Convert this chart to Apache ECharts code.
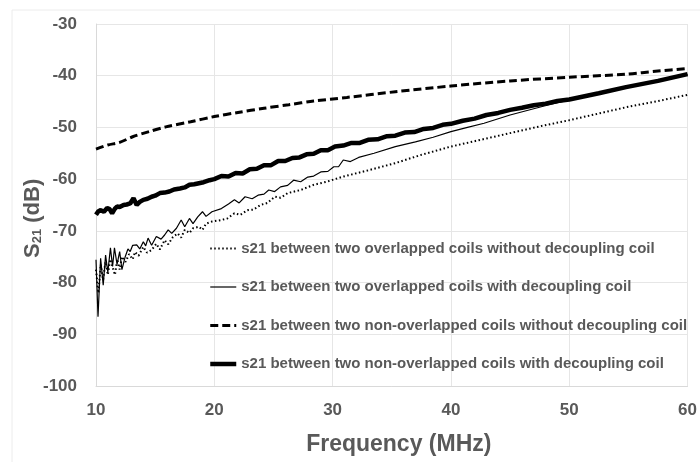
<!DOCTYPE html>
<html>
<head>
<meta charset="utf-8">
<script src="https://cdn.jsdelivr.net/npm/echarts@6/dist/echarts.min.js"></script>
<style>
  html, body { margin: 0; padding: 0; background: #fff; }
  #chart { width: 700px; height: 462px; }
</style>
</head>
<body>
<div id="chart"></div>
<script>
// x ticks / y ticks
const freqMin = 10, freqMax = 60, freqStep = 10
const dbMin = -100, dbMax = -30, dbStep = 10

const legendNames = [
  's21 between two overlapped coils without decoupling coil',
  's21 between two overlapped coils with decoupling coil',
  's21 between two non-overlapped coils without decoupling coil',
  's21 between two non-overlapped coils with decoupling coil'
]

// overlapped, no decoupling (dotted)
const freqOverlapNoDec = [10.0, 10.2, 10.4, 10.6, 10.8, 11.0, 11.2, 11.4, 11.6, 11.8, 12.0, 12.2, 12.5, 12.8, 13.1, 13.3, 13.6, 14.0, 14.3, 14.7, 15.1, 15.4, 15.8, 16.1, 16.5, 16.9, 17.2, 17.5, 17.9, 18.2, 18.7, 19.0, 19.3, 19.8, 20.6, 21.1, 21.7, 22.2, 22.8, 23.3, 23.9, 24.5, 25.1, 25.6, 26.2, 27.3, 28.4, 29.5, 30.9, 33.0, 35.3, 37.5, 40.0, 42.5, 45.0, 47.5, 50.0, 52.5, 54.8, 57.5, 60.0]
const s21OverlapNoDec = [-77.5, -82.0, -76.5, -79.5, -76.0, -78.5, -75.5, -77.0, -78.5, -75.5, -77.5, -75.0, -76.0, -74.5, -75.5, -74.1, -74.8, -73.1, -74.2, -73.7, -72.5, -73.6, -71.8, -72.6, -71.2, -70.5, -71.3, -69.8, -70.4, -69.5, -69.2, -69.8, -68.6, -68.2, -67.9, -67.6, -66.6, -66.9, -66.0, -65.9, -65.0, -64.6, -63.4, -63.6, -62.7, -62.1, -61.1, -60.5, -59.5, -58.3, -56.9, -55.3, -53.7, -52.4, -51.1, -49.8, -48.6, -47.3, -46.1, -44.9, -43.7]

// overlapped, with decoupling (thin solid)
const freqOverlapDec = [10.0, 10.17, 10.39, 10.61, 10.81, 11.0, 11.22, 11.4, 11.56, 11.78, 12.0, 12.19, 12.47, 12.7, 12.89, 13.1, 13.44, 13.7, 14.0, 14.2, 14.4, 14.7, 15.1, 15.5, 15.8, 16.1, 16.4, 16.8, 17.2, 17.5, 17.9, 18.2, 18.6, 19.0, 19.3, 19.8, 20.6, 21.2, 21.7, 22.1, 22.6, 23.2, 23.7, 24.2, 24.6, 25.1, 25.6, 26.2, 26.7, 27.3, 27.9, 28.4, 29.0, 29.6, 30.1, 30.5, 30.9, 31.5, 32.2, 33.5, 35.3, 37.0, 38.5, 40.0, 41.4, 42.8, 45.0, 47.8, 50.0, 52.5, 55.0, 57.5, 60.0]
const s21OverlapDec = [-75.6, -86.6, -75.3, -80.5, -74.7, -78.0, -73.3, -76.9, -73.3, -76.5, -74.0, -77.5, -75.0, -73.5, -74.0, -72.8, -72.7, -73.5, -72.1, -72.9, -71.4, -72.8, -71.1, -71.6, -70.8, -69.8, -70.5, -69.5, -67.9, -69.2, -67.6, -68.6, -67.3, -66.3, -67.2, -66.3, -65.7, -64.8, -64.0, -64.6, -63.4, -63.8, -63.1, -62.9, -62.1, -62.4, -61.5, -61.2, -60.2, -60.5, -59.6, -59.4, -58.6, -58.5, -57.6, -57.6, -56.3, -56.6, -55.8, -55.0, -53.7, -52.8, -51.9, -50.8, -50.0, -49.2, -47.6, -45.9, -44.7, -43.4, -42.2, -41.0, -39.8]

// non-overlapped, no decoupling (dashed)
const freqApartNoDec = [10, 11, 12, 13.1, 14.5, 15.9, 18, 20, 22, 24.2, 26.3, 28.4, 31.2, 35.3, 40, 45, 50, 54.8, 57.5, 60]
const s21ApartNoDec = [-54.2, -53.4, -52.9, -51.8, -50.8, -49.9, -48.9, -47.9, -47.1, -46.3, -45.6, -44.9, -44.2, -43.1, -42.0, -41.0, -40.3, -39.7, -39.1, -38.6]

// non-overlapped, with decoupling (thick solid)
const freqApartDec = [10.0, 10.2, 10.4, 10.67, 10.94, 11.15, 11.36, 11.6, 11.78, 12.0, 12.33, 12.6, 12.89, 13.17, 13.44, 13.7, 14.0, 14.35, 14.7, 15.0, 15.4, 15.8, 16.2, 16.6, 17.1, 17.5, 17.9, 18.3, 18.7, 19.1, 19.6, 20.0, 20.6, 21.2, 21.8, 22.4, 23.0, 23.6, 24.2, 24.8, 25.4, 26.0, 26.6, 27.2, 27.8, 28.4, 29.0, 29.6, 30.2, 30.9, 31.6, 32.3, 33.0, 33.8, 34.6, 35.3, 36.1, 36.9, 37.7, 38.5, 39.3, 40.0, 41.0, 42.0, 43.0, 44.0, 45.0, 46.0, 47.0, 48.0, 49.0, 50.0, 52.5, 54.8, 57.5, 60.0]
const s21ApartDec = [-66.9, -66.2, -66.0, -66.3, -65.6, -65.8, -66.6, -65.7, -65.3, -65.4, -65.0, -64.9, -64.7, -63.7, -65.0, -64.4, -64.0, -63.8, -63.4, -63.2, -62.7, -62.6, -62.4, -62.0, -61.8, -61.6, -61.1, -61.0, -60.8, -60.6, -60.2, -60.0, -59.4, -59.5, -58.8, -58.9, -58.1, -58.0, -57.3, -57.3, -56.5, -56.5, -55.9, -55.8, -55.2, -55.1, -54.4, -54.4, -53.7, -53.5, -53.0, -53.0, -52.4, -52.3, -51.7, -51.6, -51.0, -50.9, -50.3, -50.1, -49.5, -49.3, -48.7, -48.3, -47.6, -47.2, -46.6, -46.2, -45.7, -45.4, -44.9, -44.6, -43.4, -42.2, -41.0, -39.7]

const pairs = (xs, ys) => xs.map((x, i) => [x, ys[i]])

const textGray = '#595959'
const gridGray = '#e6e6e6'

// line styles, in legend order
const lineStyles = [
  { color: '#000', width: 2, type: [1.5, 2.5] },
  { color: '#000', width: 1.2, type: 'solid' },
  { color: '#000', width: 3, type: [8, 4] },
  { color: '#000', width: 4.5, type: 'solid' }
]

const chart = echarts.init(document.getElementById('chart'))

const option = {
  animation: false,
  backgroundColor: '#fff',
  grid: { left: 96, right: 4, top: 24, bottom: 76 },
  graphic: [
    {
      type: 'rect',
      shape: { x: 12, y: 10, width: 700, height: 470 },
      style: { fill: 'none', stroke: '#ececec', lineWidth: 1 },
      silent: true
    },
    {
      type: 'text',
      x: 21,
      y: 258,
      rotation: Math.PI / 2,
      style: {
        text: '{m|S}{s|21}{m| (dB)}',
        rich: {
          m: { fontFamily: 'Liberation Sans', fontWeight: 'bold', fontSize: 22, fill: textGray },
          s: { fontFamily: 'Liberation Sans', fontWeight: 'bold', fontSize: 13, fill: textGray, padding: [10, 0, 0, 0] }
        }
      },
      silent: true
    }
  ],
  legend: {
    orient: 'vertical',
    left: 208,
    top: 241,
    padding: 0,
    itemWidth: 26,
    itemHeight: 14,
    itemGap: 23.5,
    itemStyle: { opacity: 0 },
    data: legendNames.map((name, i) => ({ name, lineStyle: lineStyles[i] })),
    textStyle: {
      fontFamily: 'Liberation Sans',
      fontWeight: 'bold',
      fontSize: 15,
      color: textGray,
      lineHeight: 14
    }
  },
  xAxis: {
    type: 'value',
    min: freqMin,
    max: freqMax,
    interval: freqStep,
    name: 'Frequency (MHz)',
    nameLocation: 'middle',
    nameGap: 47,
    nameTextStyle: {
      fontFamily: 'Liberation Sans',
      fontWeight: 'bold',
      fontSize: 23,
      color: textGray,
      padding: [0, 0, 0, 14]
    },
    axisLine: { lineStyle: { color: '#d9d9d9', width: 1 } },
    axisTick: { show: false },
    axisLabel: {
      margin: 16,
      fontFamily: 'Liberation Sans',
      fontWeight: 'bold',
      fontSize: 17,
      color: textGray
    },
    splitLine: { lineStyle: { color: gridGray, width: 1 } }
  },
  yAxis: {
    type: 'value',
    min: dbMin,
    max: dbMax,
    interval: dbStep,
    axisLine: { show: true, lineStyle: { color: '#d9d9d9', width: 1 } },
    axisTick: { show: false },
    axisLabel: {
      margin: 19,
      fontFamily: 'Liberation Sans',
      fontWeight: 'bold',
      fontSize: 17,
      color: textGray
    },
    splitLine: { lineStyle: { color: gridGray, width: 1 } }
  },
  series: [
    {
      name: legendNames[0],
      type: 'line',
      data: pairs(freqOverlapNoDec, s21OverlapNoDec),
      symbol: 'none',
      color: '#000',
      lineStyle: lineStyles[0]
    },
    {
      name: legendNames[1],
      type: 'line',
      data: pairs(freqOverlapDec, s21OverlapDec),
      symbol: 'none',
      color: '#000',
      lineStyle: lineStyles[1]
    },
    {
      name: legendNames[2],
      type: 'line',
      data: pairs(freqApartNoDec, s21ApartNoDec),
      symbol: 'none',
      smooth: 0.3,
      color: '#000',
      lineStyle: lineStyles[2]
    },
    {
      name: legendNames[3],
      type: 'line',
      data: pairs(freqApartDec, s21ApartDec),
      symbol: 'none',
      color: '#000',
      lineStyle: lineStyles[3]
    }
  ]
}

chart.setOption(option)
</script>
</body>
</html>
